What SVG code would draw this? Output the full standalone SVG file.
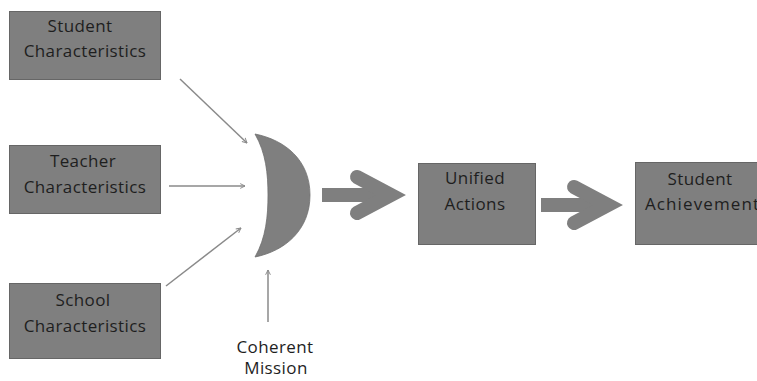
<svg xmlns="http://www.w3.org/2000/svg" width="757" height="381" viewBox="0 0 757 381">
<style>
.box{fill:#7f7f7f;stroke:#666666;stroke-width:1}
.t{font-family:"Open Sans","Noto Sans",sans-serif;font-size:17px;fill:#1e1e1e;text-anchor:middle;letter-spacing:0.4px}
.thin{stroke:#8a8a8a;stroke-width:1.5;fill:none;marker-end:url(#ah)}
.big{fill:#7f7f7f}
.chev{fill:none;stroke:#7f7f7f;stroke-width:14;stroke-linecap:round;stroke-linejoin:miter}
</style>
<defs>
<marker id="ah" viewBox="0 0 10 10" refX="9" refY="5" markerWidth="6" markerHeight="6" markerUnits="userSpaceOnUse" orient="auto">
<polyline points="1,1 9,5 1,9" fill="none" stroke="#8a8a8a" stroke-width="1.6"/>
</marker>
</defs>
<rect width="757" height="381" fill="#ffffff"/>
<g id="student-characteristics">
<rect class="box" x="9.5" y="11.5" width="151" height="68"/>
<text class="t" x="80" y="32">Student</text>
<text class="t" x="85" y="57">Characteristics</text>
</g>
<g id="teacher-characteristics">
<rect class="box" x="9.5" y="145.5" width="151" height="68"/>
<text class="t" x="83" y="167">Teacher</text>
<text class="t" x="85" y="193">Characteristics</text>
</g>
<g id="school-characteristics">
<rect class="box" x="9.5" y="283.5" width="151" height="75"/>
<text class="t" x="83" y="306">School</text>
<text class="t" x="85" y="332">Characteristics</text>
</g>
<g id="coherent-mission-shape">
<path d="M255,134 C285,140 310,160 310,195 C310,230 285,251 255,257 C266,238 268,216 268,195 C268,174 266,153 255,134 Z" fill="#7f7f7f" stroke="#6f6f6f" stroke-width="0.8"/>
</g>
<g id="coherent-mission-label">
<text class="t" x="275" y="353">Coherent</text>
<text class="t" x="276" y="374">Mission</text>
</g>
<g id="unified-actions">
<rect class="box" x="418.5" y="163.5" width="117" height="81"/>
<text class="t" x="475" y="184">Unified</text>
<text class="t" x="475" y="210">Actions</text>
</g>
<g id="student-achievement">
<rect class="box" x="635.5" y="162.5" width="131" height="82"/>
<text class="t" x="700" y="185">Student</text>
<text class="t" x="645" y="210" style="text-anchor:start;letter-spacing:1.1px">Achievement</text>
</g>
<g id="connectors">
<line class="thin" x1="180" y1="79" x2="247" y2="143"/>
<line class="thin" x1="169" y1="186" x2="245" y2="186"/>
<line class="thin" x1="166" y1="286" x2="241" y2="228"/>
<line class="thin" x1="268" y1="322" x2="268" y2="270"/>
<rect class="big" x="322" y="188" width="66" height="14"/>
<polyline class="chev" points="357,177 391,195 357,213"/>
<rect class="big" x="541" y="198" width="66" height="14"/>
<polyline class="chev" points="574,187 608,205 574,223"/>
</g>
</svg>
